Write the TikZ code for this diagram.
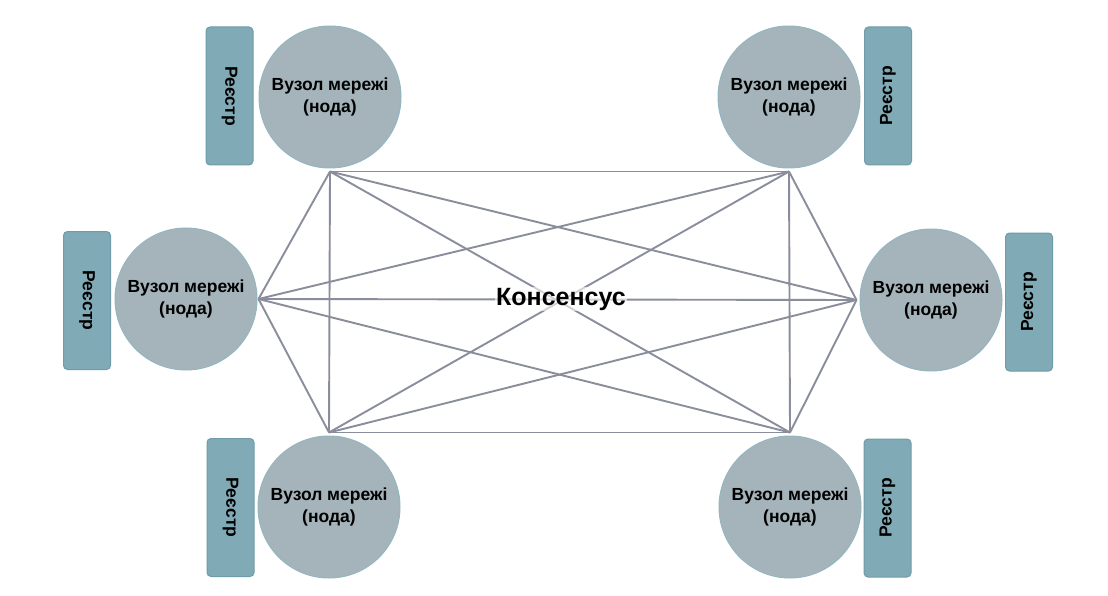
\documentclass[tikz,border=0pt]{standalone}
\usepackage{fontspec}
\setmainfont{Liberation Sans}
\definecolor{nodefill}{HTML}{A4B4BA}
\definecolor{nodeline}{HTML}{93B6C1}
\definecolor{regfill}{HTML}{80AAB6}
\definecolor{regline}{HTML}{6E9CA8}
\definecolor{linkcol}{HTML}{8A8E9C}
\begin{document}
\begin{tikzpicture}[x=1pt,y=-1pt,
  netnode/.style={circle, fill=nodefill, draw=nodeline, line width=1pt, minimum size=142pt, inner sep=0pt, align=center, font=\fontsize{17.5}{22}\selectfont\bfseries},
  regbox/.style={rectangle, rounded corners=4pt, fill=regfill, draw=regline, line width=1pt, minimum width=138pt, minimum height=47pt, inner sep=0pt, font=\fontsize{17.5}{20}\selectfont\bfseries},
  link/.style={draw=linkcol, line width=1.9pt},
  centre/.style={fill=white, fill opacity=0.6, text opacity=1, inner sep=1pt, font=\fontsize{25}{28}\selectfont\bfseries}]
\fill[white] (0,0) rectangle (1108,596);
\useasboundingbox (0,0) rectangle (1108,596);
% nodes
\node[netnode] (tl) at (330,97) {Вузол мережі\\(нода)};
\node[netnode] (tr) at (789,97) {Вузол мережі\\(нода)};
\node[netnode] (ml) at (186,299) {Вузол мережі\\(нода)};
\node[netnode] (mr) at (931,300) {Вузол мережі\\(нода)};
\node[netnode] (bl) at (329,507) {Вузол мережі\\(нода)};
\node[netnode] (br) at (790,507) {Вузол мережі\\(нода)};
% registers
\node[regbox, rotate=-90] (rtl) at (229.5,96) {Реєстр};
\node[regbox, rotate=90] (rtr) at (888,96) {Реєстр};
\node[regbox, rotate=-90] (rml) at (87,300.5) {Реєстр};
\node[regbox, rotate=90] (rmr) at (1029,302) {Реєстр};
\node[regbox, rotate=-90] (rbl) at (230.5,507.5) {Реєстр};
\node[regbox, rotate=90] (rbr) at (887.5,508) {Реєстр};
% connection points
\coordinate (pTL) at ([yshift=-3pt]tl.south);
\coordinate (pTR) at ([yshift=-3pt]tr.south);
\coordinate (pML) at ([xshift=1pt]ml.east);
\coordinate (pMR) at ([xshift=-3pt]mr.west);
\coordinate (pBL) at ([yshift=3pt]bl.north);
\coordinate (pBR) at ([yshift=3pt]br.north);
% full mesh
\foreach \a/\b in {pTL/pTR,pTL/pML,pTL/pMR,pTL/pBL,pTL/pBR,
                   pTR/pML,pTR/pMR,pTR/pBL,pTR/pBR,
                   pML/pMR,pML/pBL,pML/pBR,
                   pMR/pBL,pMR/pBR,
                   pBL/pBR}
  \draw[link] (\a) -- (\b);
\node[centre] (cons) at (561,299) {Консенсус};
\end{tikzpicture}
\end{document}
